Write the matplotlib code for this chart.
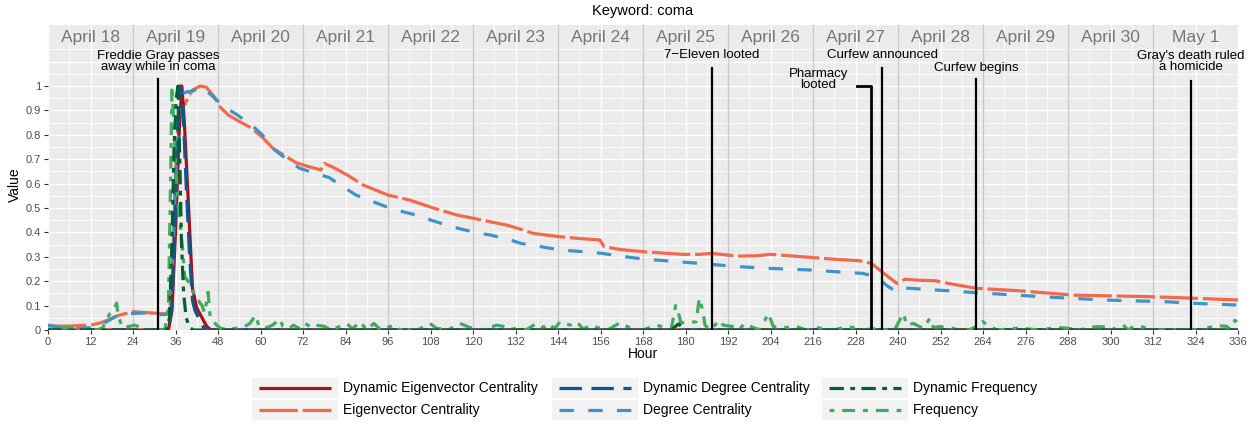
import numpy as np
import matplotlib
matplotlib.use("Agg")
import matplotlib.pyplot as plt
from matplotlib.patches import Rectangle

plt.rcParams['font.family'] = ['Liberation Sans', 'DejaVu Sans']

# ---- data ----
eig_h = [0, 6, 12, 15, 17.5, 20, 24, 28, 33.5, 34.5, 35.2, 36, 36.8, 37.7, 38.7, 39.7, 41, 43,
         44.7, 47, 48.5, 51, 54, 57.5, 60.5, 63.5, 66.5, 70, 73, 77, 78, 80.5, 84.5, 89, 96, 102,
         109, 115.5, 120, 129.5, 133.5, 137, 144, 150, 155.8, 157, 161.5, 168, 179, 184, 187.5,
         194.5, 200, 204, 215, 222, 229, 232.5, 236, 239.7, 242, 246, 250.5, 255, 262, 274,
         289.5, 310, 324, 336]
eig_v = [0.016, 0.016, 0.02, 0.03, 0.044, 0.06, 0.075, 0.071, 0.066, 0.1, 0.25, 0.65, 0.85, 0.92,
         0.925, 0.96, 0.985, 1.0, 0.995, 0.955, 0.915, 0.88, 0.855, 0.827, 0.79, 0.745, 0.717,
         0.686, 0.672, 0.656, 0.683, 0.667, 0.635, 0.594, 0.553, 0.533, 0.499, 0.471, 0.458,
         0.43, 0.413, 0.396, 0.383, 0.375, 0.369, 0.342, 0.33, 0.321, 0.31, 0.31, 0.314, 0.303,
         0.304, 0.31, 0.298, 0.29, 0.284, 0.273, 0.232, 0.191, 0.208, 0.204, 0.202, 0.189,
         0.171, 0.161, 0.143, 0.137, 0.13, 0.123]

deg_h = [0, 2, 4, 8, 12, 15.5, 19, 22, 24, 28, 32, 34, 35, 36, 37, 38, 39, 41, 43, 44.5, 47,
         50.5, 53.5, 58, 60.5, 64, 66.5, 71, 75, 79.5, 82.5, 87, 90.5, 95.5, 99, 104, 108,
         112.5, 116.5, 121, 125, 130.5, 133.5, 139, 144.5, 151, 156.5, 161.5, 168, 184, 194.5,
         203, 215, 230, 234, 237, 239.5, 242, 254, 262, 280, 298, 315.5, 324, 336]
deg_v = [0.02, 0.015, 0.008, 0.005, 0.01, 0.025, 0.055, 0.065, 0.068, 0.07, 0.063, 0.065, 0.2,
         0.6, 0.9, 0.97, 0.975, 0.98, 0.995, 0.985, 0.95, 0.908, 0.881, 0.833, 0.8, 0.738, 0.71,
         0.663, 0.645, 0.624, 0.594, 0.553, 0.533, 0.505, 0.489, 0.471, 0.451, 0.43, 0.414,
         0.399, 0.389, 0.369, 0.355, 0.342, 0.328, 0.321, 0.314, 0.303, 0.291, 0.273, 0.26,
         0.253, 0.246, 0.232, 0.218, 0.18, 0.158, 0.172, 0.161, 0.153, 0.137, 0.123, 0.116,
         0.109, 0.102]

dyn_eig_h = [0, 34, 35, 36, 37, 37.8, 38.5, 39.6, 40.8, 42, 43.5, 44.8, 46, 336]
dyn_eig_v = [0, 0, 0.08, 0.4, 0.8, 1.0, 0.85, 0.53, 0.17, 0.09, 0.05, 0.015, 0, 0]

dyn_deg_h = [0, 34, 35, 36, 36.8, 37.3, 38, 39, 40, 40.8, 41.5, 42.5, 43.5, 44.5, 336]
dyn_deg_v = [0, 0, 0.1, 0.5, 0.9, 1.0, 0.95, 0.6, 0.3, 0.12, 0.08, 0.05, 0.02, 0, 0]

dyn_freq_h = [0, 33.5, 34.3, 35, 35.6, 36.2, 36.7, 37.2, 37.7, 38.3, 39, 40, 41, 176, 178, 180, 336]
dyn_freq_v = [0, 0, 0.05, 0.35, 0.75, 0.95, 1.0, 0.7, 0.35, 0.15, 0.05, 0.01, 0, 0, 0.025, 0, 0]

freq_h = [0, 3, 6, 9, 12, 14, 15.5, 17.5, 18.5, 19.4, 19.8, 21, 23, 24.5, 25.8, 28, 33, 34, 34.6,
          35, 35.5, 36, 36.5, 37.2, 38, 38.6, 39.5, 40.5, 41.5, 42.5, 43.5, 44.2, 45.2, 45.8, 46.5,
          47.6, 49, 52, 55, 57, 58.6, 59.5, 61, 63.4, 65.5, 66.3, 68, 69.3, 71, 72.2, 74.5, 75.6,
          78, 80, 84.3, 86, 88.1, 90, 92, 94, 96.5, 98, 99.4, 102, 105, 107.8, 109.7, 113, 116.3,
          117.5, 119.1, 121.9, 124, 126.6, 128.5, 130, 133.2, 135, 137.9, 139.8, 141.3, 143,
          144.6, 147.4, 149.3, 151, 154, 155, 158, 161.5, 163.4, 166, 168, 171.8, 174.2, 176,
          177.2, 178.2, 178.7, 180.6, 183, 183.9, 184.9, 185.5, 187, 189.6, 190.6, 193.4, 195,
          196.7, 199.1, 201, 203.4, 204.8, 208.5, 211.4, 214, 217, 219, 222, 225.5, 227.3, 230,
          233, 236, 239, 241.5, 242.5, 244.3, 247.1, 249, 250, 251.8, 254.6, 257, 260, 263.1, 264,
          265, 268, 273.4, 276.2, 280, 284.7, 287.5, 291, 296, 299.8, 302, 303.6, 305, 306.4,
          309.2, 312, 318, 325, 330, 332.8, 334, 335.1, 336]
freq_v = [0.0, 0.005, 0.01, 0.005, 0.0, 0.0, 0.01, 0.068, 0.08, 0.11, 0.06, 0.01, 0.015, 0.02,
          0.012, 0.0, 0.0, 0.1, 0.6, 1.0, 0.85, 0.7, 0.55, 0.45, 0.33, 0.22, 0.2, 0.18, 0.13, 0.12,
          0.1, 0.07, 0.155, 0.05, 0.04, 0.02, 0.005, 0.005, 0.01, 0.027, 0.06, 0.02, 0.005, 0.02,
          0.045, 0.015, 0.005, 0.02, 0.005, 0.03, 0.01, 0.02, 0.015, 0.0, 0.027, 0.005, 0.034,
          0.0, 0.027, 0.0, 0.014, 0.02, 0.0, 0.0, 0.005, 0.027, 0.007, 0.0, 0.027, 0.02, 0.01,
          0.0, 0.005, 0.02, 0.015, 0.0, 0.01, 0.0, 0.027, 0.01, 0.027, 0.005, 0.034, 0.02, 0.034,
          0.005, 0.02, 0.01, 0.0, 0.03, 0.015, 0.0, 0.0, 0.02, 0.01, 0.005, 0.1, 0.06, 0.03, 0.03,
          0.034, 0.13, 0.08, 0.02, 0.0, 0.04, 0.02, 0.014, 0.0, 0.027, 0.01, 0.0, 0.068, 0.014,
          0.01, 0.014, 0.0, 0.01, 0.005, 0.0, 0.014, 0.01, 0.0, 0.005, 0.0, 0.0, 0.068, 0.02,
          0.027, 0.007, 0.048, 0.01, 0.014, 0.01, 0.0, 0.0, 0.02, 0.035, 0.02, 0.0, 0.007, 0.005,
          0.0, 0.01, 0.008, 0.0, 0.014, 0.012, 0.0, 0.02, 0.0, 0.014, 0.012, 0.0, 0.0, 0.0, 0.018,
          0.015, 0.0, 0.04, 0.03]

days = ['April 18', 'April 19', 'April 20', 'April 21', 'April 22', 'April 23', 'April 24',
        'April 25', 'April 26', 'April 27', 'April 28', 'April 29', 'April 30', 'May 1']

event_labels = ['Freddie Gray passes\naway while in coma', '7\u2212Eleven looted',
                'Curfew announced', 'Curfew begins', "Gray's death ruled\na homicide"]
event_hours = [31, 187.5, 235.5, 262, 322.75]
event_tops = [1.03, 1.075, 1.075, 1.03, 1.02]
event_text_y = [1.1, 1.126, 1.126, 1.072, 1.1]
pharmacy_hour = 232.5

# ---- styles ----
series = [
    ('Eigenvector Centrality', eig_h, eig_v, '#f26a4b', (12, 1.5)),
    ('Dynamic Eigenvector Centrality', dyn_eig_h, dyn_eig_v, '#a8101a', None),
    ('Degree Centrality', deg_h, deg_v, '#3f93c6', (4.5, 4.5)),
    ('Dynamic Degree Centrality', dyn_deg_h, dyn_deg_v, '#11568a', (7, 3)),
    ('Frequency', freq_h, freq_v, '#41ab5d', (1.5, 2.5, 4, 2.5)),
    ('Dynamic Frequency', dyn_freq_h, dyn_freq_v, '#00602f', (4.5, 2, 1.5, 2)),
]
LW = 2.3

fig = plt.figure(figsize=(12.56, 4.23), dpi=100)
W, H = 1256, 423
ax = fig.add_axes([48 / W, 93 / H, 1190 / W, 305 / H])
ax.set_facecolor('#ebebeb')
ax.set_xlim(0, 336)
ax.set_ylim(0, 1.25)
for s in ax.spines.values():
    s.set_visible(False)

# grid
for h in range(0, 337, 6):
    ax.axvline(h, color='white', lw=1.0 if h % 12 == 0 else 0.55, zorder=0)
for k in range(1, 24):
    y = k * 0.05
    ax.axhline(y, color='white', lw=1.0 if k % 2 == 0 else 0.55, zorder=0)
for h in range(24, 336, 24):
    ax.axvline(h, color='#c8c8c8', lw=1.0, zorder=0.5)

for i, d in enumerate(days):
    ax.text(12 + 24 * i, 1.2, d, ha='center', va='center', fontsize=12.5, color='#777777')

for name, hs, vs, col, dash in series:
    line, = ax.plot(hs, vs, color=col, lw=LW, solid_capstyle='butt', dash_capstyle='butt',
                    zorder=3)
    if dash is not None:
        line.set_dashes(dash)

# events
for lab, h, top, ty in zip(event_labels, event_hours, event_tops, event_text_y):
    ax.plot([h, h], [0, top], color='black', lw=1.6, zorder=5)
    ax.text(h, ty, lab, ha='center', va='center', fontsize=9.5, linespacing=0.95, zorder=6)
ax.plot([pharmacy_hour - 4, pharmacy_hour, pharmacy_hour], [1.0, 1.0, 0], color='black',
        lw=2.0, zorder=5)
ax.text(pharmacy_hour - 15, 1.026, 'Pharmacy\nlooted', ha='center', va='center',
        fontsize=9.5, linespacing=0.95, zorder=6)

ax.set_xticks(range(0, 337, 12))
ax.set_yticks(np.round(np.arange(0, 1.01, 0.1), 1))
ax.set_yticklabels(['0'] + ['%.1f' % v for v in np.arange(0.1, 0.95, 0.1)] + ['1'])
ax.tick_params(axis='both', length=3, width=0.8, color='#333333', labelcolor='#4d4d4d',
               labelsize=8, pad=2)

fig.text(643 / W, 1 - 11 / H, 'Keyword: coma', ha='center', va='center', fontsize=10.5)
fig.text(643 / W, 1 - 354 / H, 'Hour', ha='center', va='center', fontsize=10)
fig.text(15 / W, 1 - 185 / H, 'Value', ha='center', va='center', fontsize=10, rotation=90)

# legend drawn by hand (ggplot style keys)
lax = fig.add_axes([0, 0, 1, 1])
lax.set_xlim(0, W)
lax.set_ylim(H, 0)
lax.axis('off')
legend_order = [
    ('Dynamic Eigenvector Centrality', '#a8101a', None, 252, 388),
    ('Dynamic Degree Centrality', '#11568a', (7, 3), 552, 388),
    ('Dynamic Frequency', '#00602f', (4.5, 2, 1.5, 2), 822, 388),
    ('Eigenvector Centrality', '#f26a4b', (12, 1.5), 252, 410),
    ('Degree Centrality', '#3f93c6', (4.5, 4.5), 552, 410),
    ('Frequency', '#41ab5d', (1.5, 2.5, 4, 2.5), 822, 410),
]
for name, col, dash, x0, yc in legend_order:
    lax.add_patch(Rectangle((x0, yc - 10), 86, 20, facecolor='#f2f2f2', edgecolor='none'))
    ln, = lax.plot([x0 + 7, x0 + 79], [yc, yc], color=col, lw=LW, solid_capstyle='butt',
                   dash_capstyle='butt')
    if dash is not None:
        ln.set_dashes(dash)
    lax.text(x0 + 91, yc, name, ha='left', va='center', fontsize=10)

fig.savefig('out.png', dpi=100)
